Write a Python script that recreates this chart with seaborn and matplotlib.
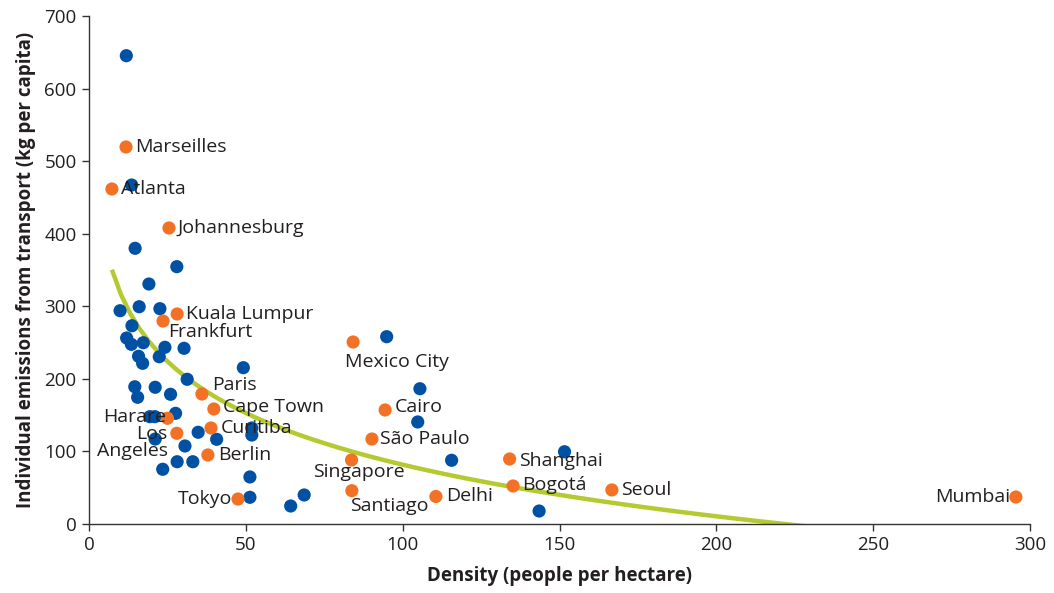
import numpy as np
import pandas as pd
import matplotlib
matplotlib.use("Agg")
import matplotlib.pyplot as plt
import seaborn as sns

# ---- data ----
city_names = ["Marseilles", "Atlanta", "Johannesburg", "Kuala Lumpur", "Frankfurt",
              "Paris", "Cape Town", "Curitiba", "Harare", "Los\nAngeles", "Berlin",
              "Tokyo", "Mexico City", "Cairo", "São Paulo", "Singapore", "Santiago",
              "Delhi", "Shanghai", "Bogotá", "Seoul", "Mumbai"]
city_density = [11.8, 7.3, 25.5, 28.1, 23.6, 36.0, 39.8, 38.9, 25.0, 28.0, 37.9,
                47.5, 84.2, 94.4, 90.2, 83.7, 83.8, 110.6, 134.1, 135.2, 166.7, 295.5]
city_emissions = [519.5, 461.6, 407.9, 289.4, 279.7, 179.1, 158.5, 132.3, 145.7, 125.0, 95.1,
                  34.4, 250.8, 157.1, 117.1, 88.2, 45.9, 37.9, 89.6, 52.4, 46.9, 37.2]

other_density = [11.9, 13.6, 14.7, 28.0, 19.1, 9.9, 16.0, 22.6, 13.7, 12.0, 13.5, 17.3,
                 24.2, 30.3, 15.8, 17.1, 22.4, 49.2, 31.3, 14.6, 21.1, 15.5, 26.0, 19.4,
                 21.0, 27.6, 21.1, 34.8, 40.7, 30.6, 51.9, 51.9, 28.1, 33.1, 23.5, 51.3,
                 51.3, 68.6, 64.3, 94.9, 105.5, 104.8, 115.6, 151.6, 143.5]
other_emissions = [645.3, 467.1, 379.9, 354.6, 330.7, 293.9, 299.4, 296.7, 273.2, 256.3,
                   247.6, 249.8, 243.5, 242.1, 231.1, 221.4, 230.5, 215.4, 199.4, 189.1,
                   188.4, 174.6, 178.7, 147.9, 147.9, 152.5, 117.1, 126.4, 116.7, 107.5,
                   132.3, 122.6, 85.8, 85.8, 75.4, 64.8, 36.8, 40.0, 24.8, 258.1, 186.4,
                   140.6, 87.8, 99.6, 17.9]

x_ticks = [0, 50, 100, 150, 200, 250, 300]
y_ticks = [0, 100, 200, 300, 400, 500, 600, 700]

# label placement: (dx, dy) in pixels, ha
label_pos = {
    "Marseilles": (9, 0, "left"), "Atlanta": (9, 0, "left"),
    "Johannesburg": (9, 0, "left"), "Kuala Lumpur": (9, 0, "left"),
    "Frankfurt": (5, -11, "left"), "Paris": (10, 9, "left"),
    "Cape Town": (9, 2, "left"), "Curitiba": (10, 0, "left"),
    "Harare": (-1, 1, "right"), "Los\nAngeles": (-9, -9, "right"),
    "Berlin": (10, 0, "left"), "Tokyo": (-6, 0, "right"),
    "Mexico City": (-8, -20, "left"), "Cairo": (10, 3, "left"),
    "São Paulo": (8, 0, "left"), "Singapore": (7, -12, "center"),
    "Santiago": (-2, -15, "left"), "Delhi": (10, 0, "left"),
    "Shanghai": (9, -2, "left"), "Bogotá": (9, 1, "left"),
    "Seoul": (9, 0, "left"), "Mumbai": (-6, 0, "right"),
}

BLUE = "#0051A4"
ORANGE = "#F37124"
GREEN = "#B5C930"
TXT = "#231F20"

sns.set_theme(style="ticks")
plt.rcParams["font.family"] = ["Open Sans", "DejaVu Sans"]
plt.rcParams["text.color"] = TXT

fig = plt.figure(figsize=(10.54, 5.93), dpi=100)
ax = fig.add_axes([89 / 1054, 69 / 593, 941 / 1054, 508 / 593])

cities = pd.DataFrame({"density": city_density, "emissions": city_emissions, "name": city_names})
others = pd.DataFrame({"density": other_density, "emissions": other_emissions})
alldf = pd.concat([cities[["density", "emissions"]], others], ignore_index=True)

sns.regplot(data=alldf, x="density", y="emissions", logx=True, ci=None, scatter=False,
            ax=ax, line_kws=dict(color=GREEN, lw=3.2, zorder=1, solid_capstyle="butt"))

sns.scatterplot(data=others, x="density", y="emissions", color=BLUE, s=90,
                edgecolor="none", ax=ax, zorder=3)
sns.scatterplot(data=cities, x="density", y="emissions", color=ORANGE, s=90,
                edgecolor="none", ax=ax, zorder=3)

for name, xv, yv in zip(city_names, city_density, city_emissions):
    dx, dy, ha = label_pos[name]
    ax.annotate(name, (xv, yv), xytext=(dx * 0.72, dy * 0.72), textcoords="offset points",
                ha=ha, va="center", fontsize=14, color=TXT, zorder=4,
                linespacing=0.9, multialignment="right" if ha == "right" else "left")

ax.set_xlim(0, 300)
ax.set_ylim(0, 700)
ax.set_xticks(x_ticks)
ax.set_yticks(y_ticks)
ax.tick_params(axis="both", labelsize=13.5, colors="#333333", labelcolor=TXT,
               length=5, width=1, direction="out", pad=4)
for s in ["left", "bottom"]:
    ax.spines[s].set_color("#333333")
    ax.spines[s].set_linewidth(1)
sns.despine(ax=ax)
ax.set_xlabel("Density (people per hectare)", fontsize=13.5, fontweight="bold", color=TXT, labelpad=8)
ax.set_ylabel("Individual emissions from transport (kg per capita)", fontsize=13.5,
              fontweight="bold", color=TXT, labelpad=6)

fig.savefig("out.png", dpi=100)
